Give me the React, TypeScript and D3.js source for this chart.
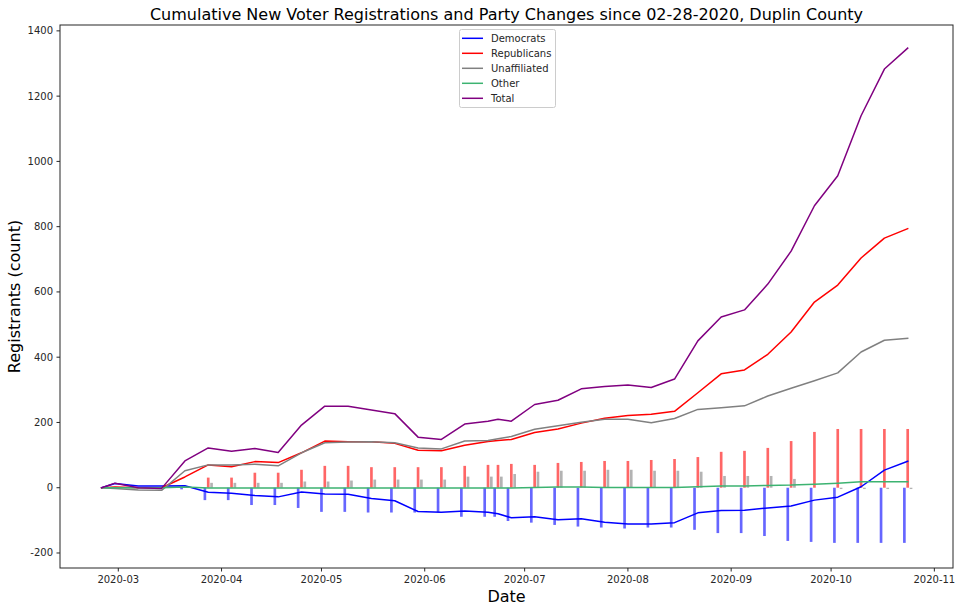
import React, { useEffect, useRef } from "react";
import * as d3 from "d3";

// Line dates (weekly snapshots)
const dates = [
  "2020-02-25", "2020-02-29", "2020-03-07", "2020-03-14", "2020-03-21", "2020-03-28",
  "2020-04-04", "2020-04-11", "2020-04-18", "2020-04-25", "2020-05-02", "2020-05-09",
  "2020-05-16", "2020-05-23", "2020-05-30", "2020-06-06", "2020-06-13", "2020-06-20",
  "2020-06-23", "2020-06-27", "2020-07-04", "2020-07-11", "2020-07-18", "2020-07-25",
  "2020-08-01", "2020-08-08", "2020-08-15", "2020-08-22", "2020-08-29", "2020-09-05",
  "2020-09-12", "2020-09-19", "2020-09-26", "2020-10-03", "2020-10-10", "2020-10-17",
  "2020-10-24",
];

// Cumulative new registrations (lines)
const democrats = [0, 13, 5, 5, 6, -14, -17, -24, -28, -13, -19, -20, -33, -40, -73, -75, -71, -75, -80, -92, -89, -98, -95, -106, -111, -111, -107, -77, -70, -69, -62, -56, -38, -29, 3, 54, 81];
const republicans = [0, 2, 0, 0, 33, 70, 64, 80, 77, 107, 143, 141, 141, 136, 115, 113, 130, 142, 145, 148, 169, 180, 198, 213, 221, 225, 234, 291, 349, 361, 409, 477, 569, 621, 704, 765, 794];
const unaffiliated = [0, -2, -7, -8, 52, 70, 70, 72, 67, 107, 138, 140, 141, 138, 122, 119, 143, 145, 150, 157, 179, 190, 201, 210, 210, 199, 212, 240, 245, 251, 281, 305, 328, 352, 416, 452, 458];
const other = [0, 0, 0, 0, 2, -1, -1, -1, -1, -1, -1, -1, -1, -1, -1, -1, -1, -1, -1, -1, 1, 2, 2, 1, 1, 1, 1, 3, 5, 5, 7, 8, 11, 14, 18, 18, 18];
const total = [0, 14, 0, -2, 82, 122, 112, 120, 108, 192, 250, 250, 238, 227, 155, 148, 195, 204, 210, 204, 255, 268, 303, 310, 315, 307, 333, 450, 523, 545, 624, 725, 864, 956, 1140, 1283, 1347];

// Cumulative party changes (bars)
const demChanges = [0, 0, 0, 0, -5, -38, -38, -53, -53, -62, -74, -74, -76, -76, -76, -75, -89, -89, -89, -102, -107, -114, -119, -122, -125, -122, -122, -129, -139, -139, -148, -163, -166, -169, -169, -169, -169];
const repChanges = [0, 0, 0, 0, 0, 31, 31, 46, 46, 55, 67, 67, 63, 63, 63, 63, 67, 70, 70, 73, 70, 76, 79, 82, 82, 85, 88, 94, 110, 113, 122, 143, 171, 180, 180, 180, 180];
const unaChanges = [0, 0, 0, 0, 0, 15, 15, 15, 15, 19, 19, 22, 25, 25, 25, 25, 34, 34, 34, 42, 49, 52, 52, 55, 55, 52, 52, 49, 36, 36, 36, 27, 0, -4, -4, -4, -4];
const othChanges = [0, 0, 0, 0, 0, 0, 0, 0, 0, 0, 0, 0, 0, 0, 0, 0, 0, 0, 0, 0, 0, 0, 0, 0, 0, 0, 0, 0, 0, 0, 0, 0, 0, 0, 0, 0, 0];

const yTicks = [-200, 0, 200, 400, 600, 800, 1000, 1200, 1400];
const xTicks = ["2020-03-01", "2020-04-01", "2020-05-01", "2020-06-01", "2020-07-01", "2020-08-01", "2020-09-01", "2020-10-01", "2020-11-01"];

const seriesNames = ["Democrats", "Republicans", "Unaffiliated", "Other", "Total"];
const seriesColors = ["blue", "red", "gray", "mediumseagreen", "purple"];

const titleText = "Cumulative New Voter Registrations and Party Changes since 02-28-2020, Duplin County";

export default function App() {
  const ref = useRef<SVGSVGElement>(null);

  useEffect(() => {
    const svg = d3.select(ref.current);
    svg.selectAll("*").remove();
    const font = "DejaVu Sans, sans-serif";
    const L = 60, R = 953, T = 25, B = 568;
    const DAY = 86400000;
    const parse = d3.utcParse("%Y-%m-%d");
    const ds = dates.map((d) => parse(d) as Date);
    const mar1 = Date.UTC(2020, 2, 1);
    const x = d3.scaleUtc()
      .domain([new Date(mar1 - 17.5 * DAY), new Date(mar1 + 250.6 * DAY)])
      .range([L, R]);
    const y = d3.scaleLinear().domain([-246, 1418]).range([B, T]);

    svg.append("rect").attr("x", 0).attr("y", 0).attr("width", 962).attr("height", 611).attr("fill", "white");

    // bars
    const barSets = [
      { vals: demChanges, off: -1, color: "blue" },
      { vals: repChanges, off: 0, color: "red" },
      { vals: unaChanges, off: 1, color: "gray" },
      { vals: othChanges, off: 2, color: "mediumseagreen" },
    ];
    const bw = x(new Date(mar1 + 0.8 * DAY)) - x(new Date(mar1));
    barSets.forEach((bs) => {
      svg.append("g").selectAll("rect").data(bs.vals.map((v, i) => ({ v, d: ds[i] })).filter((o) => o.v !== 0))
        .join("rect")
        .attr("x", (o) => x(new Date(o.d.getTime() + bs.off * DAY)) - bw / 2)
        .attr("width", bw)
        .attr("y", (o) => Math.min(y(o.v), y(0)))
        .attr("height", (o) => Math.abs(y(o.v) - y(0)))
        .attr("fill", bs.color)
        .attr("fill-opacity", 0.6);
    });

    // lines
    const allSeries = [democrats, republicans, unaffiliated, other, total];
    const line = d3.line<number>().x((_, i) => x(ds[i])).y((v) => y(v));
    allSeries.forEach((s, k) => {
      svg.append("path").attr("d", line(s) as string).attr("fill", "none")
        .attr("stroke", seriesColors[k]).attr("stroke-width", 1.5)
        .attr("stroke-linejoin", "round").attr("stroke-linecap", "square");
    });

    // axes frame
    svg.append("rect").attr("x", L).attr("y", T).attr("width", R - L).attr("height", B - T)
      .attr("fill", "none").attr("stroke", "#262626").attr("stroke-width", 1);

    // y ticks
    const gy = svg.append("g");
    yTicks.forEach((t) => {
      gy.append("line").attr("x1", L - 3.5).attr("x2", L).attr("y1", y(t)).attr("y2", y(t)).attr("stroke", "#262626");
      gy.append("text").attr("x", L - 7).attr("y", y(t)).attr("dy", "0.35em").attr("text-anchor", "end")
        .attr("font-family", font).attr("font-size", 10).attr("fill", "#262626").text(String(t));
    });
    // x ticks
    const gx = svg.append("g");
    const fmt = d3.utcFormat("%Y-%m");
    xTicks.forEach((t) => {
      const d = parse(t) as Date;
      gx.append("line").attr("x1", x(d)).attr("x2", x(d)).attr("y1", B).attr("y2", B + 3.5).attr("stroke", "#262626");
      gx.append("text").attr("x", x(d)).attr("y", B + 15).attr("text-anchor", "middle")
        .attr("font-family", font).attr("font-size", 10).attr("fill", "#262626").text(fmt(d));
    });

    // labels
    svg.append("text").attr("x", (L + R) / 2).attr("y", 20).attr("text-anchor", "middle")
      .attr("font-family", font).attr("font-size", 16).attr("fill", "#000").text(titleText);
    svg.append("text").attr("x", (L + R) / 2).attr("y", 602).attr("text-anchor", "middle")
      .attr("font-family", font).attr("font-size", 16).attr("fill", "#000").text("Date");
    svg.append("text").attr("transform", `translate(20,${(T + B) / 2}) rotate(-90)`).attr("text-anchor", "middle")
      .attr("font-family", font).attr("font-size", 16).attr("fill", "#000").text("Registrants (count)");

    // legend
    const lg = svg.append("g");
    lg.append("rect").attr("x", 459.5).attr("y", 29.5).attr("width", 96).attr("height", 78).attr("rx", 2)
      .attr("fill", "white").attr("fill-opacity", 0.8).attr("stroke", "#cccccc");
    seriesNames.forEach((n, i) => {
      const yy = 38.3 + i * 15;
      lg.append("line").attr("x1", 462).attr("x2", 483).attr("y1", yy).attr("y2", yy)
        .attr("stroke", seriesColors[i]).attr("stroke-width", 1.5);
      lg.append("text").attr("x", 491).attr("y", yy).attr("dy", "0.35em")
        .attr("font-family", font).attr("font-size", 10).attr("fill", "#262626").text(n);
    });
  }, []);

  return <svg ref={ref} width={962} height={611} style={{ position: "absolute", left: 0, top: 0 }} />;
}
